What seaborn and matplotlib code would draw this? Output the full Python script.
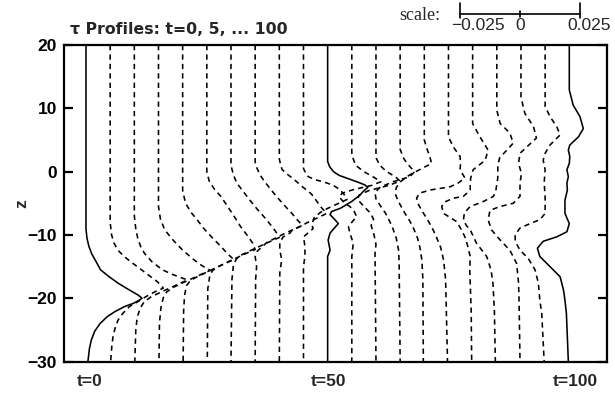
import numpy as np
import pandas as pd
import matplotlib
matplotlib.use("Agg")
import matplotlib.pyplot as plt
import matplotlib.transforms as mtransforms
import seaborn as sns

# ---------------------------------------------------------------------------
# Profile data: tau(z) at times t = 0, 5, ..., 100 (tau in units of 1e-3)
# ---------------------------------------------------------------------------
times = list(range(0, 101, 5))
solid_times = [0, 50, 100]

z_00 = [20, -9, -10.5, -11.8, -13, -14.5, -15.5, -16.6, -17.6, -18.7, -19.5, -20, -20.4, -20.8, -21.3, -22.1, -22.9, -24, -25.2, -26.6, -28, -30]
tau_00 = [0, 0, 0.4, 1.2, 2.4, 4.6, 6.0, 9.6, 13.2, 18.0, 21.6, 23.2, 21.6, 19.6, 16.0, 12.0, 8.8, 5.8, 3.6, 2.2, 1.4, 0.8]

z_05 = [20, -8, -10, -11.3, -12.4, -13.4, -14.2, -15, -15.8, -16.6, -17.4, -18.4, -19, -19.7, -20.5, -21.3, -22.4, -23.5, -24.5, -26, -27.5, -30]
tau_05 = [0, 0, 0.6, 1.6, 3.2, 5.8, 8.4, 11.2, 14.0, 16.8, 19.6, 22.0, 18.4, 15.0, 11.6, 8.0, 5.2, 3.2, 2.2, 1.2, 0.7, 0.2]

z_10 = [20, -7, -9, -10.5, -11.8, -12.9, -14.2, -15.5, -16.2, -16.7, -17.1, -17.7, -18.4, -19.1, -19.8, -20.6, -21.6, -23, -25, -30]
tau_10 = [0, 0, 0.6, 1.4, 2.6, 4.2, 7.2, 11.6, 15.6, 19.0, 22.0, 18.6, 14.6, 10.6, 6.8, 4.0, 2.4, 1.2, 0.6, 0.2]

z_15 = [20, -5.5, -7.5, -9.2, -10.8, -12.4, -13.9, -14.8, -15.6, -16.2, -16.9, -17.6, -18.3, -19.0, -19.9, -21.5, -24, -30]
tau_15 = [0, 0, 0.8, 2.6, 6.0, 10.0, 14.6, 17.8, 21.4, 17.8, 13.8, 9.8, 6.0, 3.4, 2.0, 1.0, 0.4, 0.2]

z_20 = [20, -3, -5, -6.5, -7.6, -9, -10.5, -11.8, -12.9, -13.9, -14.5, -15.2, -15.9, -16.6, -17.2, -18, -19.5, -22, -30]
tau_20 = [0, 0, 1.2, 3.6, 6.0, 8.8, 12.4, 15.8, 18.4, 21.2, 17.6, 13.6, 9.8, 6.0, 3.2, 1.6, 0.8, 0.4, 0.2]

z_25 = [20, 0, -1.5, -2.8, -3.9, -5.5, -7, -8.7, -10.2, -11.3, -12.3, -12.9, -13.6, -14.3, -15, -15.6, -16.5, -18.5, -30]
tau_25 = [0, 0, 1.0, 3.2, 5.8, 8.6, 11.2, 14.0, 17.0, 19.0, 20.0, 16.4, 12.4, 8.4, 4.8, 2.4, 1.2, 0.4, 0.2]

z_30 = [20, 1, -0.5, -1.8, -3, -4.5, -6, -7.1, -8.4, -9.4, -10.4, -11, -11.7, -12.4, -13.1, -13.8, -14.8, -17, -30]
tau_30 = [0, 0, 1.0, 2.4, 4.8, 7.8, 11.0, 13.6, 16.4, 18.4, 20.0, 16.4, 12.4, 8.4, 4.6, 2.2, 1.0, 0.4, 0]

z_35 = [20, 1.5, 0.5, -0.5, -1.3, -2.6, -3.9, -5.2, -6.6, -7.6, -8.5, -9.1, -9.8, -10.5, -11.2, -11.8, -12.6, -13.4, -15, -17, -30]
tau_35 = [0, 0, 0.8, 2.0, 3.4, 6.0, 8.8, 11.8, 15.2, 17.4, 19.6, 16.0, 12.0, 8.4, 4.8, 3.0, 0.8, 0, 0.6, 0.2, 0]

z_40 = [20, 2, 1, 0.3, -0.5, -1.2, -2.4, -3.5, -4.5, -5.5, -6.6, -7.2, -7.9, -8.6, -9.3, -9.7, -10.3, -11.2, -12.4, -13.9, -16, -30]
tau_40 = [0, 0, 0.6, 1.2, 3.6, 6.0, 9.6, 13.2, 15.2, 17.0, 19.6, 16.4, 12.4, 8.8, 5.2, 4.4, 1.6, 0.2, 0.2, 1.0, 0.2, 0]

z_45 = [20, 0.5, -0.3, -0.8, -1.3, -1.6, -2.1, -2.8, -3.6, -4.4, -5.1, -5.8, -6.5, -7.3, -8.4, -9, -10.3, -11.8, -13.4, -15, -30]
tau_45 = [0, 0, 1.0, 2.0, 5.0, 8.2, 12.0, 15.0, 16.8, 18.0, 14.0, 10.0, 6.8, 4.4, 3.4, 4.0, 0, 0.6, 0.6, 0, 0]

z_50 = [20, 1.6, 0.8, 0, -0.6, -1.2, -1.7, -2.1, -2.5, -3.1, -3.7, -4.7, -5.8, -6.3, -6.8, -7.5, -8.2, -9.0, -9.7, -10.8, -12.4, -13.4, -30]
tau_50 = [0, 0, 0.8, 2.4, 4.8, 9.2, 12.8, 15.4, 16.6, 14.8, 13.4, 10.0, 5.2, 1.6, 1.0, 2.8, 4.4, 2.6, 1.0, 0.2, 1.0, 0, 0]

z_55 = [20, 2.6, 1.0, 0, -1.0, -1.6, -2.2, -2.8, -3.4, -4.0, -5.0, -5.5, -6.3, -7.1, -8.0, -8.7, -9.7, -11.3, -13.4, -30]
tau_55 = [0, 0, 1.6, 5.0, 9.6, 12.0, 8.0, 1.0, -4.0, -5.2, -3.0, -0.8, 1.0, 2.0, 0, -1.4, -0.8, 0.6, 0, 0]

z_60 = [20, 2.2, 1.0, 0, -0.8, -1.5, -2.2, -3.0, -3.7, -4.4, -5.5, -6.5, -7.5, -8.5, -10, -11.5, -13, -30]
tau_60 = [0, 0, 1.6, 4.4, 8.0, 10.0, 5.0, -3.0, -7.0, -7.6, -5.0, -2.4, -1.0, -2.0, -0.8, 0, -0.4, 0]

z_65 = [20, 3.5, 2.0, 0.8, 0, -0.8, -1.6, -2.5, -3.3, -4.3, -5.5, -6.6, -7.8, -9, -10.5, -12.5, -15, -30]
tau_65 = [0, 0, 1.6, 4.0, 6.0, 4.0, -3.0, -8.4, -10.4, -10.0, -8.0, -6.0, -4.4, -3.0, -1.6, -0.6, -0.4, 0]

z_70 = [20, 5, 3.5, 2.2, 1.3, 0.5, -0.5, -1.5, -2.5, -3.5, -4.5, -5.5, -6.6, -7.8, -9, -10.5, -12, -14, -17, -30]
tau_70 = [0, 0, 1.2, 2.4, 3.0, -1.0, -6.0, -9.6, -11.6, -12.0, -11.0, -9.6, -8.0, -6.0, -4.4, -2.8, -1.8, -1.0, -0.6, -0.4]

z_75 = [20, 5.5, 3.9, 2.4, 1.3, 0.3, -1.0, -1.8, -2.4, -2.9, -3.4, -4.2, -5.2, -6.3, -7.5, -9, -10.5, -12, -14, -17, -20, -30]
tau_75 = [0, 0, 2.0, 4.8, 5.0, 4.8, 6.8, 4.0, 0.6, -7.6, -12.0, -13.2, -12.4, -10.8, -8.8, -6.6, -4.8, -3.2, -2.0, -1.2, -1.0, -0.4]

z_80 = [20, 7.6, 5.5, 3.4, 1.8, 0.3, -1.0, -1.8, -2.9, -3.9, -4.2, -4.8, -5.5, -6.6, -7.9, -9.2, -10.3, -11.8, -13.4, -15.5, -17.6, -22, -30]
tau_80 = [0, 0, 3.0, 6.4, 5.2, 0.2, -0.8, -1.0, -1.0, -3.8, -8.0, -11.6, -12.8, -12.0, -6.6, -4.6, -3.2, -2.0, -1.0, -1.2, -1.0, -0.6, -0.4]

z_85 = [20, 9.7, 7.6, 6.1, 4.5, 3.5, 2.2, 1.0, -1.0, -3.0, -3.9, -4.8, -5.5, -6.5, -7.6, -8.5, -9.2, -11.3, -13.4, -15.5, -17.6, -22, -30]
tau_85 = [0, 0, 1.4, 5.4, 6.8, 4.4, 1.2, 0.4, 0.4, -0.4, -1.4, -6.0, -11.0, -13.4, -13.8, -12.6, -11.0, -8.4, -4.2, -2.4, -1.6, -1.0, -0.6]

z_90 = [20, 11.8, 9.2, 7.1, 5.3, 3.9, 2.9, 1.3, -0.3, -1.8, -3.9, -5.0, -5.5, -6.1, -7.6, -9.2, -10.8, -12.4, -14.5, -17.6, -20.3, -25, -30]
tau_90 = [0, 0, 1.6, 5.2, 6.4, 2.4, -0.4, -1.0, 0.2, -0.4, -0.4, -3.2, -8.6, -12.8, -13.6, -12.2, -8.6, -4.6, -1.8, -1.0, -0.8, -0.6, -0.4]

z_95 = [20, 10.3, 8.7, 7.1, 5.8, 4.2, 2.9, 1.8, 0.3, -1.8, -3.9, -6.6, -7.6, -8.2, -8.9, -10.0, -11.0, -12.4, -13.7, -15.5, -17.6, -20.3, -22.4, -30]
tau_95 = [0, 0, 2.0, 4.8, 6.2, 2.0, 0, -0.8, 0, -0.4, 0, 0, -2.2, -6.2, -10.4, -12.4, -12.4, -10.4, -7.0, -4.2, -2.8, -2.2, -1.4, -0.4]

z_100 = [20, 12.9, 10.5, 8.7, 6.8, 5.5, 4.2, 3.4, 2.4, 1.3, 0.3, -0.8, -1.8, -2.9, -4.5, -6.6, -8.2, -9.5, -10.3, -11, -12.1, -13.4, -15, -16.6, -18.7, -20.3, -22.4, -30]
tau_100 = [0, 0, 1.6, 4.4, 5.8, 3.8, 0.2, -0.4, 0.2, 0, -1.0, -0.4, -1.0, -0.8, -1.8, -1.8, 0, -1.0, -5.2, -10.8, -13.2, -12.2, -8.0, -3.8, -2.4, -1.8, -1.2, -0.4]

tau_unit = 1e-3          # stored tau values are in units of 1e-3
time_per_tau = 500.0     # horizontal offset: 0.025 in tau spans 12.5 time units

scale_values = [-0.025, 0.0, 0.025]
scale_labels = ["\u22120.025", "0", "0.025"]
ytick_values = [20, 10, 0, -10, -20, -30]
time_label_values = [0, 50, 100]
time_labels = ["t=0", "t=50", "t=100"]
title_text = "\u03c4 Profiles: t=0, 5, ... 100"

profile_z = {0: z_00, 5: z_05, 10: z_10, 15: z_15, 20: z_20, 25: z_25, 30: z_30,
             35: z_35, 40: z_40, 45: z_45, 50: z_50, 55: z_55, 60: z_60, 65: z_65,
             70: z_70, 75: z_75, 80: z_80, 85: z_85, 90: z_90, 95: z_95, 100: z_100}
profile_tau = {0: tau_00, 5: tau_05, 10: tau_10, 15: tau_15, 20: tau_20, 25: tau_25,
               30: tau_30, 35: tau_35, 40: tau_40, 45: tau_45, 50: tau_50, 55: tau_55,
               60: tau_60, 65: tau_65, 70: tau_70, 75: tau_75, 80: tau_80, 85: tau_85,
               90: tau_90, 95: tau_95, 100: tau_100}

# Long-form table: each profile sits at its own time, displaced by tau
rows = []
for t in times:
    zs, taus = profile_z[t], profile_tau[t]
    assert len(zs) == len(taus), t
    for k, (z, tau) in enumerate(zip(zs, taus)):
        rows.append({"t": t, "k": k, "z": z,
                     "pos": t + tau * tau_unit * time_per_tau,
                     "kind": "solid" if t in solid_times else "dashed"})
df = pd.DataFrame(rows)

# ---------------------------------------------------------------------------
sns.set_style("white")
plt.rcParams["font.family"] = ["Liberation Sans", "DejaVu Sans"]
plt.rcParams["axes.unicode_minus"] = True

fig = plt.figure(figsize=(6.15, 3.96), dpi=100)
ax = fig.add_axes([64 / 615, 1 - 361.6 / 396, (607 - 64) / 615, (361.6 - 45) / 396])

sns.lineplot(data=df, x="pos", y="z", units="t", estimator=None, sort=False,
             style="kind", dashes={"solid": "", "dashed": (3.3, 2.6)},
             color="black", linewidth=1.15, legend=False, ax=ax)

ax.set_xlim(-4.55, 107.8)
ax.set_ylim(-30, 20)
ax.set_xticks([])
ax.set_yticks(ytick_values)
ax.set_yticklabels([f"{v}".replace("-", "\u2212") for v in ytick_values],
                   fontsize=12.5, fontweight="bold")
ax.set_xlabel("")
ax.set_ylabel("")
ax.tick_params(axis="y", direction="in", length=6.5, width=1.6,
               left=True, right=True, pad=5, colors="black")
for side in ax.spines.values():
    side.set_visible(True)
    side.set_linewidth(1.6)
    side.set_color("black")

# Time labels under the frame
label_shift = [0.8, 0.2, 1.3]
for t, lab, dx in zip(time_label_values, time_labels, label_shift):
    ax.text(t + dx, -0.062, lab, transform=ax.get_xaxis_transform(),
            ha="center", va="center", fontsize=12.5, fontweight="bold")

# Vertical axis label and title
fig.text(22 / 615, 1 - 204 / 396, "z", rotation=90, ha="center", va="center",
         fontsize=12.5, fontweight="bold")
fig.text(70 / 615, 1 - 34.5 / 396, title_text, ha="left", va="baseline",
         fontsize=11.3, fontweight="bold", family=["DejaVu Sans"])

# Scale bar for tau, drawn above the frame in time units
bar_center = 89.8
bar_y = 1 - 14 / 396
trans = mtransforms.blended_transform_factory(ax.transData, fig.transFigure)
bar_pos = [bar_center + v * time_per_tau for v in scale_values]
ax.plot([bar_pos[0], bar_pos[-1]], [bar_y, bar_y], color="black", lw=1.2,
        transform=trans, clip_on=False)
tick_spans = [(1 - 18.3 / 396, 1 - 2.7 / 396), (1 - 17.3 / 396, 1 - 10.7 / 396),
              (1 - 18.3 / 396, 1 - 2.7 / 396)]
for p, (y0, y1) in zip(bar_pos, tick_spans):
    ax.plot([p, p], [y0, y1], color="black", lw=1.2, transform=trans, clip_on=False)
label_dx = [3.7, 0.0, 1.7]
for p, lab, dx in zip(bar_pos, scale_labels, label_dx):
    ax.text(p + dx, 1 - 26 / 396, lab, transform=trans, ha="center", va="center",
            fontsize=12.5)
fig.text(440 / 615, 1 - 15.5 / 396, "scale:", ha="right", va="center",
         fontsize=13, family=["Liberation Serif", "DejaVu Serif"])

fig.savefig("out.png", dpi=100)
